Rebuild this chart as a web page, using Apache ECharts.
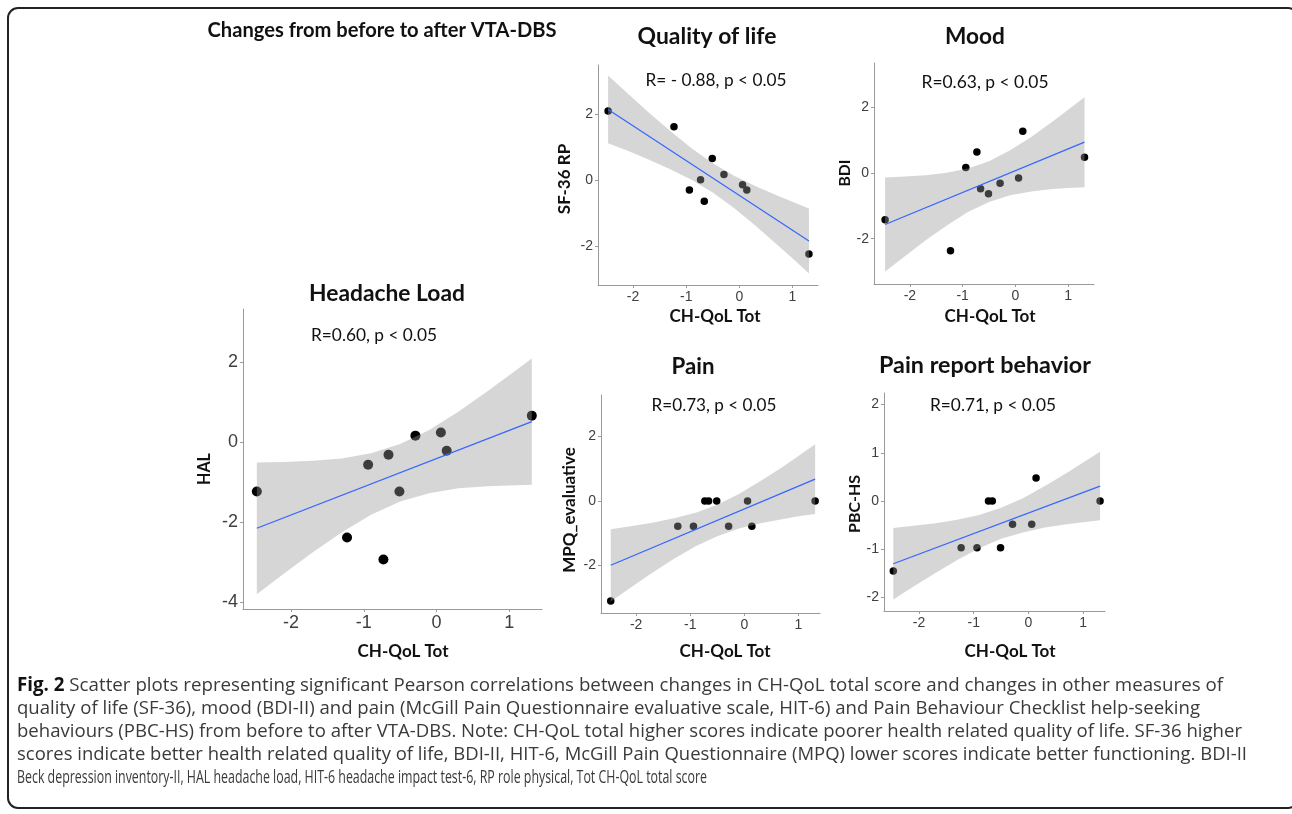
<!DOCTYPE html>
<html><head><meta charset="utf-8">
<script src="https://cdn.jsdelivr.net/npm/echarts@6/dist/echarts.min.js"></script>
<style>html,body{margin:0;padding:0;background:#fff}#c{width:1292px;height:814px}</style>
</head><body><div id="c"></div>
<script>
// ---------------- data ----------------
const chQolTot = [-2.47, -1.23, -0.94, -0.73, -0.66, -0.51, -0.29, 0.06, 0.14, 1.31];
const sf36rp   = [2.10, 1.62, -0.30, 0.01, -0.64, 0.66, 0.17, -0.14, -0.30, -2.25];
const bdi      = [-1.42, -2.37, 0.17, 0.64, -0.48, -0.63, -0.31, -0.15, 1.27, 0.48];
const hal      = [-1.23, -2.38, -0.56, -2.93, -0.31, -1.23, 0.17, 0.25, -0.21, 0.67];
const mpqEval  = [-3.10, -0.78, -0.78, 0, 0, 0, -0.78, 0, -0.78, 0];
const pbcHs    = [-1.45, -0.97, -0.97, 0, 0, -0.97, -0.48, -0.48, 0.48, 0];

// fitted lines (endpoints) and confidence bands
const fitX = [-2.47, 1.31];
const qolFit  = [2.15, -1.85];
const moodFit = [-1.57, 0.94];
const halFit  = [-2.15, 0.52];
const painFit = [-1.99, 0.68];
const pbcFit  = [-1.30, 0.31];

const bandX = [-2.47, -2.1, -1.7, -1.3, -0.9, -0.5, -0.1, 0.3, 0.7, 1.0, 1.31];
const qolUpper  = [3.18, 2.63, 2.05, 1.49, 0.97, 0.51, 0.13, -0.18, -0.46, -0.66, -0.86];
const qolLower  = [1.12, 0.89, 0.62, 0.33, 0.01, -0.38, -0.85, -1.38, -1.95, -2.38, -2.84];
const moodUpper = [-0.14, -0.11, -0.07, 0.01, 0.14, 0.36, 0.69, 1.10, 1.56, 1.93, 2.31];
const moodLower = [-3.00, -2.54, -2.05, -1.60, -1.19, -0.88, -0.68, -0.56, -0.49, -0.46, -0.43];
const halUpper  = [-0.50, -0.49, -0.46, -0.40, -0.27, -0.04, 0.31, 0.77, 1.28, 1.68, 2.10];
const halLower  = [-3.80, -3.29, -2.75, -2.25, -1.81, -1.48, -1.27, -1.15, -1.10, -1.08, -1.06];
const painUpper = [-0.87, -0.78, -0.67, -0.53, -0.36, -0.11, 0.22, 0.62, 1.05, 1.40, 1.76];
const painLower = [-3.11, -2.68, -2.22, -1.79, -1.40, -1.09, -0.85, -0.69, -0.56, -0.47, -0.40];
const pbcUpper  = [-0.56, -0.51, -0.46, -0.39, -0.29, -0.14, 0.06, 0.31, 0.58, 0.80, 1.02];
const pbcLower  = [-2.04, -1.77, -1.49, -1.22, -0.98, -0.78, -0.65, -0.55, -0.48, -0.44, -0.40];

// tick labels
const ticksX = [-2, -1, 0, 1];
const ticksY = [-2, 0, 2];
const ticksYHal = [-4, -2, 0, 2];
const ticksYPbc = [-2, -1, 0, 1, 2];

// texts
const mainTitle = 'Changes from before to after VTA-DBS';
const xName = 'CH-QoL Tot';
const captionLines = [
 'Scatter plots representing significant Pearson correlations between changes in CH-QoL total score and changes in other measures of',
 'quality of life (SF-36), mood (BDI-II) and pain (McGill Pain Questionnaire evaluative scale, HIT-6) and Pain Behaviour Checklist help-seeking',
 'behaviours (PBC-HS) from before to after VTA-DBS. Note: CH-QoL total higher scores indicate poorer health related quality of life. SF-36 higher',
 'scores indicate better health related quality of life, BDI-II, HIT-6, McGill Pain Questionnaire (MPQ) lower scores indicate better functioning. BDI-II',
 'Beck depression inventory-II, HAL headache load, HIT-6 headache impact test-6, RP role physical, Tot CH-QoL total score'
];
const captionLead = 'Fig. 2';

// ---------------- layout ----------------
const panels = [
 {y: sf36rp, up: qolUpper, lo: qolLower, fit: qolFit, title: 'Quality of life', r: 'R= - 0.88, p < 0.05', yName: 'SF-36 RP', yTicks: ticksY,
  grid: {left: 598, top: 65, width: 220, height: 220}, xr: [-2.66, 1.48], yr: [-3.19, 3.50], fs: 14, sym: 7.5,
  tPos: [707, 37], tW: 139, rPos: [716, 80], rW: 141, xnPos: [715, 317], ynPos: [565, 179], ynW: 78},
 {y: bdi, up: moodUpper, lo: moodLower, fit: moodFit, title: 'Mood', r: 'R=0.63, p < 0.05', yName: 'BDI', yTicks: ticksY,
  grid: {left: 874, top: 63, width: 220, height: 221}, xr: [-2.68, 1.49], yr: [-3.38, 3.35], fs: 14, sym: 7.5,
  tPos: [975, 37], tW: 60, rPos: [985, 82], rW: 127, xnPos: [990, 317], ynPos: [845, 173], ynW: 27},
 {y: hal, up: halUpper, lo: halLower, fit: halFit, title: 'Headache Load', r: 'R=0.60, p < 0.05', yName: 'HAL', yTicks: ticksYHal,
  grid: {left: 243, top: 309, width: 299, height: 300}, xr: [-2.66, 1.45], yr: [-4.17, 3.34], fs: 18, sym: 10,
  tPos: [387, 294], tW: 156, rPos: [374, 335], rW: 126, xnPos: [403, 652], ynPos: [205, 469], ynW: 32},
 {y: mpqEval, up: painUpper, lo: painLower, fit: painFit, title: 'Pain', r: 'R=0.73, p < 0.05', yName: 'MPQ_evaluative', yTicks: ticksY,
  grid: {left: 601, top: 395, width: 219, height: 218}, xr: [-2.65, 1.40], yr: [-3.47, 3.29], fs: 14, sym: 7.5,
  tPos: [693, 367], tW: 43, rPos: [714, 405], rW: 125, xnPos: [725, 652], ynPos: [570, 510], ynW: 130},
 {y: pbcHs, up: pbcUpper, lo: pbcLower, fit: pbcFit, title: 'Pain report behavior', r: 'R=0.71, p < 0.05', yName: 'PBC-HS', yTicks: ticksYPbc,
  grid: {left: 884, top: 393, width: 221, height: 218}, xr: [-2.64, 1.40], yr: [-2.28, 2.24], fs: 14, sym: 7.5,
  tPos: [985, 365], tW: 212, rPos: [993, 405], rW: 126, xnPos: [1010, 652], ynPos: [855, 504], ynW: 58}
];

const cv = document.createElement('canvas').getContext('2d');
function measure(text, weight, size, family) { cv.font = weight + ' ' + size + 'px ' + family; return cv.measureText(text).width; }
function fitSize(text, weight, family, target) { return 20 * target / measure(text, weight, 20, family); }

const TFONT = 'Lato';
const grids = [], xAxes = [], yAxes = [], series = [], graphics = [];

function axisCommon(gi, min, max, ticks, fs) {
  return {
    type: 'value', gridIndex: gi, min: min, max: max, scale: true,
    splitLine: {show: false},
    axisLine: {show: true, onZero: false, lineStyle: {color: '#9a9a9a', width: 1}},
    axisTick: {show: true, length: 3, customValues: ticks, lineStyle: {color: '#9a9a9a'}},
    axisLabel: {customValues: ticks, fontSize: fs, color: '#404040', fontFamily: 'Liberation Sans', margin: 5}
  };
}

panels.forEach((p, i) => {
  grids.push(Object.assign({outerBoundsMode: 'none', containLabel: false}, p.grid));
  xAxes.push(axisCommon(i, p.xr[0], p.xr[1], ticksX, p.fs));
  yAxes.push(axisCommon(i, p.yr[0], p.yr[1], p.yTicks, p.fs));
  series.push({
    type: 'scatter', xAxisIndex: i, yAxisIndex: i, z: 2, silent: true,
    symbolSize: p.sym, itemStyle: {color: '#000', opacity: 1},
    data: chQolTot.map((x, k) => [x, p.y[k]])
  });
  series.push({
    type: 'custom', xAxisIndex: i, yAxisIndex: i, z: 3, silent: true, clip: false,
    data: bandX.map((x, k) => [x, p.lo[k], p.up[k]]),
    encode: {x: 0, y: [1, 2]},
    renderItem: function (params, api) {
      if (params.dataIndex !== 0) return null;
      const pts = [];
      for (let k = 0; k < bandX.length; k++) pts.push(api.coord([bandX[k], p.up[k]]));
      for (let k = bandX.length - 1; k >= 0; k--) pts.push(api.coord([bandX[k], p.lo[k]]));
      return {type: 'polygon', shape: {points: pts, smooth: 0}, style: {fill: 'rgba(153,153,153,0.4)', stroke: null}};
    }
  });
  series.push({
    type: 'line', xAxisIndex: i, yAxisIndex: i, z: 4, silent: true, symbol: 'none',
    lineStyle: {color: '#3366FF', width: 1.2},
    data: fitX.map((x, k) => [x, p.fit[k]])
  });

  const tfs = fitSize(p.title, 'bold', TFONT, p.tW);
  graphics.push({type: 'text', x: p.tPos[0], y: p.tPos[1], silent: true,
    style: {text: p.title, fontFamily: TFONT, fontWeight: 'bold', fontSize: tfs, fill: '#111', align: 'center', verticalAlign: 'middle'}});
  const rfs = fitSize(p.r, 'normal', TFONT, p.rW);
  graphics.push({type: 'text', x: p.rPos[0], y: p.rPos[1], silent: true,
    style: {text: p.r, fontFamily: TFONT, fontSize: rfs, fill: '#111', align: 'center', verticalAlign: 'middle'}});
  const xfs = fitSize(xName, 'bold', TFONT, 91);
  graphics.push({type: 'text', x: p.xnPos[0], y: p.xnPos[1], silent: true,
    style: {text: xName, fontFamily: TFONT, fontWeight: 'bold', fontSize: xfs, fill: '#111', align: 'center', verticalAlign: 'middle'}});
  const yfs = Math.min(17, fitSize(p.yName, 'bold', TFONT, p.ynW));
  graphics.push({type: 'text', x: p.ynPos[0], y: p.ynPos[1], rotation: Math.PI / 2, silent: true,
    style: {text: p.yName, fontFamily: TFONT, fontWeight: 'bold', fontSize: yfs, fill: '#111', align: 'center', verticalAlign: 'middle'}});
});

// main title
graphics.push({type: 'text', x: 382, y: 31, silent: true,
  style: {text: mainTitle, fontFamily: TFONT, fontWeight: 'bold', fontSize: fitSize(mainTitle, 'bold', TFONT, 349), fill: '#111', align: 'center', verticalAlign: 'middle'}});

// caption: each line fitted to the width it spans in the reference
const CFONT = 'Open Sans', CSIZE = 19;
const capTargets = [1206, 1183, 1225, 1230, 690];
const capY = [686, 709, 732, 755, 778];
captionLines.forEach((line, k) => {
  let w, text, rich;
  if (k === 0) {
    w = measure(captionLead + ' ', 'bold', CSIZE, CFONT) + measure(line, 'normal', CSIZE, CFONT);
    text = '{b|' + captionLead + '} ' + line;
    rich = {b: {fontWeight: 'bold', fontFamily: CFONT, fontSize: CSIZE, fill: '#111'}};
  } else {
    w = measure(line, 'normal', CSIZE, CFONT);
    text = line;
  }
  const el = {type: 'text', x: 17, y: capY[k], scaleX: capTargets[k] / w, silent: true,
    style: {text: text, fontFamily: CFONT, fontSize: CSIZE, fill: '#3a3a3a', align: 'left', verticalAlign: 'middle'}};
  if (rich) el.style.rich = rich;
  graphics.push(el);
});

// outer frame
graphics.push({type: 'rect', silent: true, z: 0,
  shape: {x: 8, y: 8, width: 1290, height: 800, r: 10},
  style: {fill: 'none', stroke: '#222', lineWidth: 2}});

const chart = echarts.init(document.getElementById('c'), null, {renderer: 'canvas'});
chart.setOption({
  animation: false,
  backgroundColor: '#fff',
  grid: grids, xAxis: xAxes, yAxis: yAxes, series: series, graphic: graphics
});
</script></body></html>
